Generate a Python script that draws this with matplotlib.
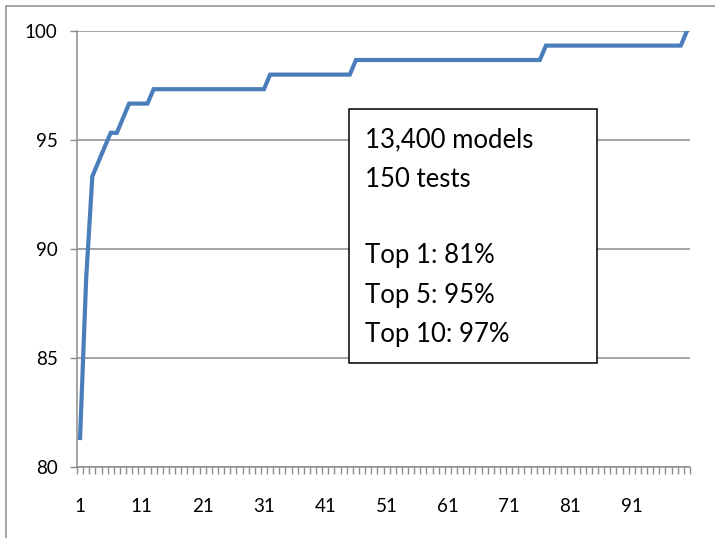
import numpy as np
import matplotlib.pyplot as plt
from matplotlib.patches import Rectangle

# cumulative accuracy (%) by rank
rank = list(range(1, 101))
accuracy = [
    81.33, 88.67, 93.33, 94.00, 94.67, 95.33, 95.33, 96.00, 96.67, 96.67,
    96.67, 96.67, 97.33, 97.33, 97.33, 97.33, 97.33, 97.33, 97.33, 97.33,
    97.33, 97.33, 97.33, 97.33, 97.33, 97.33, 97.33, 97.33, 97.33, 97.33,
    97.33, 98.00, 98.00, 98.00, 98.00, 98.00, 98.00, 98.00, 98.00, 98.00,
    98.00, 98.00, 98.00, 98.00, 98.00, 98.67, 98.67, 98.67, 98.67, 98.67,
    98.67, 98.67, 98.67, 98.67, 98.67, 98.67, 98.67, 98.67, 98.67, 98.67,
    98.67, 98.67, 98.67, 98.67, 98.67, 98.67, 98.67, 98.67, 98.67, 98.67,
    98.67, 98.67, 98.67, 98.67, 98.67, 98.67, 99.33, 99.33, 99.33, 99.33,
    99.33, 99.33, 99.33, 99.33, 99.33, 99.33, 99.33, 99.33, 99.33, 99.33,
    99.33, 99.33, 99.33, 99.33, 99.33, 99.33, 99.33, 99.33, 99.33, 100.00,
]
xtick_labels = [1, 11, 21, 31, 41, 51, 61, 71, 81, 91]
ytick_values = [80, 85, 90, 95, 100]
box_lines = ['13,400 models', '150 tests', '', 'Top 1: 81%', 'Top 5: 95%', 'Top 10: 97%']

plt.rcParams['font.family'] = ['Lato', 'DejaVu Sans']

W, H = 715, 538
fig = plt.figure(figsize=(W / 100, H / 100), dpi=100)
ax = fig.add_axes([77 / W, 1 - 467 / H, (690 - 77) / W, (467 - 31) / H])

grid_col = '#8c8c8c'
ax.plot(rank, accuracy, color='#4a7ebb', lw=3.0, solid_joinstyle='miter', zorder=3)

ax.set_xlim(0.5, 100.5)
ax.set_ylim(80, 100)
ax.set_yticks(ytick_values)
ax.yaxis.grid(True, color=grid_col, lw=1.1)
ax.set_axisbelow(True)

ax.set_xticks(xtick_labels)
ax.set_xticklabels([str(v) for v in xtick_labels])
ax.set_xticks(np.arange(0.5, 101, 1), minor=True)
ax.tick_params(axis='x', which='major', length=0, pad=22, labelsize=13.5)
ax.tick_params(axis='x', which='minor', length=5, color=grid_col, width=1)
ax.tick_params(axis='y', length=5, color=grid_col, width=1, pad=9, labelsize=13.5)

for s in ['top', 'right']:
    ax.spines[s].set_visible(False)
for s in ['left', 'bottom']:
    ax.spines[s].set_color(grid_col)
    ax.spines[s].set_linewidth(1.1)

# annotation box
fig.patches.append(Rectangle((349 / W, 1 - 363 / H), (597 - 349) / W, (363 - 109) / H,
                             transform=fig.transFigure, facecolor='white',
                             edgecolor='black', lw=1.1, zorder=5))
baselines = [147, 187, 225, 263, 303, 342]
for txt, yb in zip(box_lines, baselines):
    if txt:
        fig.text(365 / W, 1 - yb / H, txt, fontsize=18.5, va='baseline', ha='left', zorder=6)

# outer chart border (runs off the right and bottom edges)
fig.patches.append(Rectangle((6 / W, -0.05), 1.1, 1 - 6 / H + 0.05,
                             transform=fig.transFigure, fill=False,
                             edgecolor=grid_col, lw=1.1))

fig.savefig('out.png', dpi=100)
